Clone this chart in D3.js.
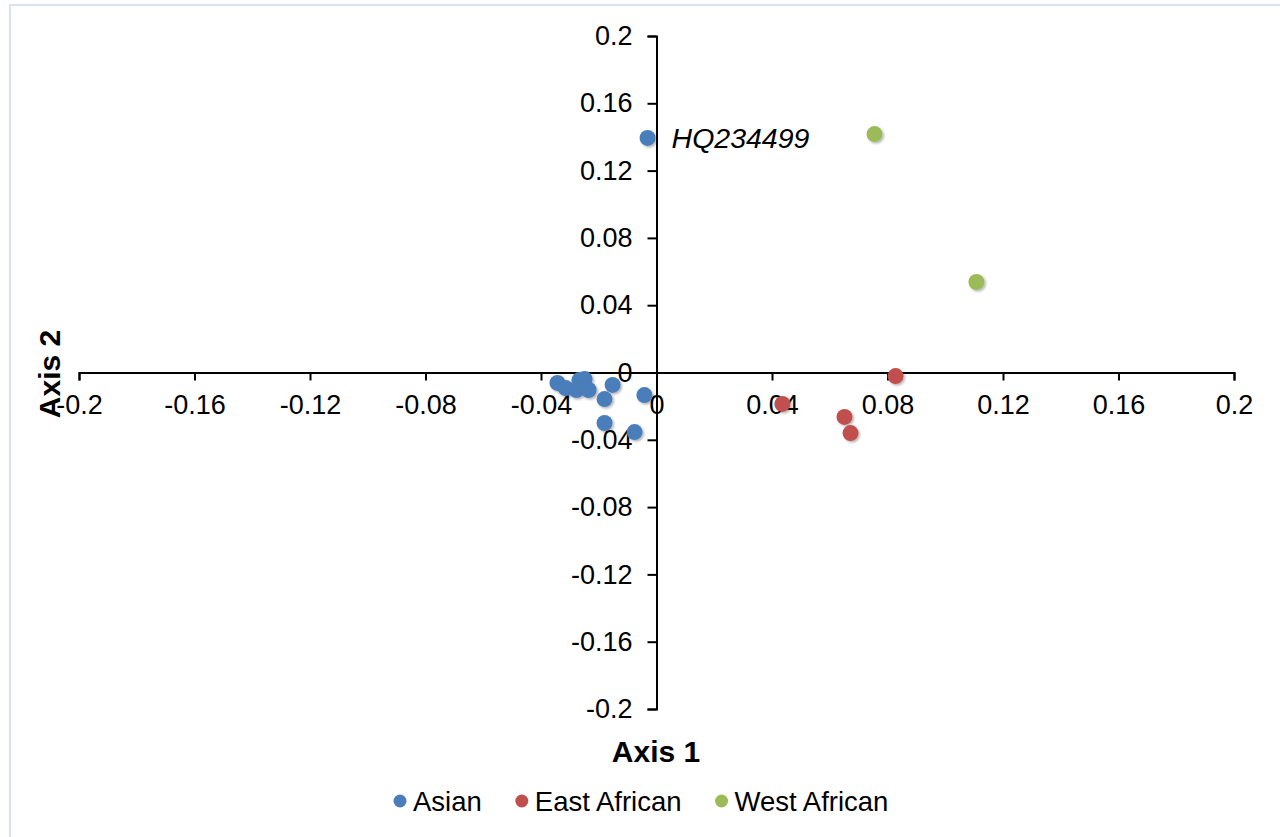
<!DOCTYPE html>
<html>
<head>
<meta charset="utf-8">
<script src="https://cdn.jsdelivr.net/npm/d3@7"></script>
<style>
    body { margin: 0; background: #fff; }
    text { font-family: "Liberation Sans", Arial, sans-serif; }
</style>
</head>
<body>
<script>
// series values (axis 1 / axis 2 scores)
const asianX = [-0.0031, -0.0343, -0.0315, -0.0267, -0.0249, -0.0277, -0.0235, -0.0152, -0.0180, -0.0042, -0.0180, -0.0076];
const asianY = [0.1394, -0.0062, -0.0092, -0.0045, -0.0039, -0.0104, -0.0104, -0.0074, -0.0158, -0.0134, -0.0300, -0.0354];
const eastX = [0.0828, 0.0436, 0.0651, 0.0672];
const eastY = [-0.0021, -0.0187, -0.0264, -0.0360];
const westX = [0.0755, 0.1108];
const westY = [0.1417, 0.0538];
const seriesNames = ["Asian", "East African", "West African"];
const seriesColors = ["#4a7ebb", "#c0504d", "#9bbb59"];
const tickValues = [-0.2, -0.16, -0.12, -0.08, -0.04, 0, 0.04, 0.08, 0.12, 0.16, 0.2];
const pointLabel = {name: "HQ234499", x: -0.0031, y: 0.1394};

const width = 1280;
const height = 837;

const svg = d3.select("body")
    .append("svg")
    .attr("width", width)
    .attr("height", height);

// light chart-area border
svg.append("rect")
    .attr("x", 10).attr("y", 5)
    .attr("width", width).attr("height", height)
    .attr("fill", "none")
    .attr("stroke", "#d9e3f0")
    .attr("stroke-width", 2);

const defs = svg.append("defs");
const shadow = defs.append("filter").attr("id", "shadow")
    .attr("x", "-50%").attr("y", "-50%").attr("width", "200%").attr("height", "200%");
shadow.append("feDropShadow")
    .attr("dx", 1.5).attr("dy", 1.5).attr("stdDeviation", 1.2)
    .attr("flood-color", "#000").attr("flood-opacity", 0.3);

const xScale = d3.scaleLinear().domain([-0.2, 0.2]).range([79, 1234]);
const yScale = d3.scaleLinear().domain([-0.2, 0.2]).range([709, 36]);

const fmt = d => d === 0 ? "0" : String(+d.toFixed(2));

const xAxis = svg.append("g")
    .attr("transform", "translate(0," + yScale(0) + ")")
    .call(d3.axisBottom(xScale).tickValues(tickValues).tickFormat(fmt).tickSize(8).tickPadding(14));

const yAxis = svg.append("g")
    .attr("transform", "translate(" + xScale(0) + ",0)")
    .call(d3.axisLeft(yScale).tickValues(tickValues).tickFormat(fmt).tickSize(9).tickPadding(15));

[xAxis, yAxis].forEach(function (g) {
    g.select(".domain").attr("stroke", "#000").attr("stroke-width", 2);
    g.selectAll(".tick line").attr("stroke", "#000").attr("stroke-width", 2);
    g.selectAll(".tick text")
        .attr("fill", "#000")
        .style("font-family", "'Liberation Sans', Arial, sans-serif")
        .style("font-size", "27px");
});

// axis titles
svg.append("text")
    .attr("x", 656).attr("y", 762)
    .attr("text-anchor", "middle")
    .style("font-size", "30px").style("font-weight", "bold")
    .text("Axis 1");

svg.append("text")
    .attr("transform", "translate(60,374) rotate(-90)")
    .attr("text-anchor", "middle")
    .style("font-size", "30px").style("font-weight", "bold")
    .text("Axis 2");

// points
const series = [
    {xs: asianX, ys: asianY},
    {xs: eastX, ys: eastY},
    {xs: westX, ys: westY}
];
series.forEach(function (s, i) {
    const pts = s.xs.map((x, j) => ({x: x, y: s.ys[j]}));
    svg.append("g")
        .selectAll("circle")
        .data(pts)
        .enter().append("circle")
        .attr("cx", d => xScale(d.x))
        .attr("cy", d => yScale(d.y))
        .attr("r", 8)
        .attr("fill", seriesColors[i])
        .attr("filter", "url(#shadow)");
});

svg.append("text")
    .attr("x", xScale(pointLabel.x) + 24)
    .attr("y", yScale(pointLabel.y) + 10)
    .style("font-size", "28.5px").style("font-style", "italic")
    .text(pointLabel.name);

// legend
const legend = svg.append("g");
let lx = 400;
seriesNames.forEach(function (name, i) {
    legend.append("circle")
        .attr("cx", lx).attr("cy", 801)
        .attr("r", 6.5)
        .attr("fill", seriesColors[i]);
    const t = legend.append("text")
        .attr("x", lx + 13).attr("y", 811)
        .style("font-size", "27.5px")
        .text(name);
    lx += 13 + t.node().getComputedTextLength() + 40;
});
</script>
</body>
</html>
